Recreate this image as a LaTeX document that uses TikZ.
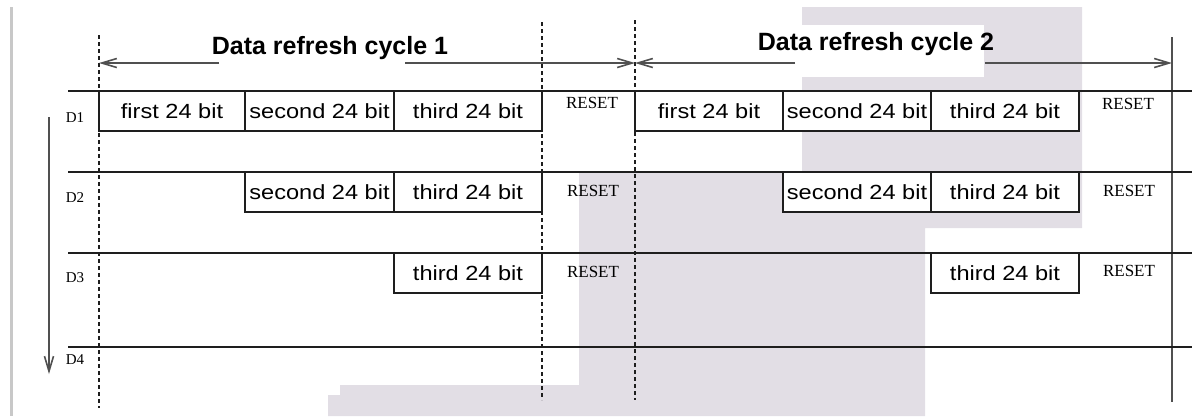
\documentclass[tikz,border=0pt]{standalone}
\usepackage{fontspec}
\setmainfont{Liberation Serif}
\newfontfamily\boxfont[FakeStretch=1.15]{Liberation Sans}
\newfontfamily\titlefont{Liberation Sans}
\usetikzlibrary{arrows.meta}
\definecolor{wmark}{RGB}{226,222,229}
\definecolor{barc}{RGB}{200,200,200}
\definecolor{linec}{RGB}{30,30,30}
\definecolor{arrc}{RGB}{80,80,80}
\tikzset{
  cell/.style={draw=linec, fill=white, line width=1.3pt, minimum height=40pt,
    inner sep=0pt, outer sep=0pt, anchor=north west,
    font=\boxfont\fontsize{20.5}{24}\selectfont},
  rowline/.style={draw=linec, line width=1.3pt},
  guide/.style={draw=linec, line width=1.3pt, dash pattern=on 4pt off 3pt},
  dimarrow/.style={draw=arrc, line width=1.6pt, -{Straight Barb[length=15pt,width=9pt,line width=1.6pt]}},
  resetlbl/.style={font=\fontsize{17}{20}\selectfont, inner sep=0pt},
  rowlbl/.style={font=\fontsize{15}{18}\selectfont, inner sep=0pt},
  title/.style={font=\titlefont\bfseries\fontsize{25}{30}\selectfont, inner sep=0pt, anchor=base}
}
\begin{document}
\begin{tikzpicture}[x=1pt,y=-1pt]
\useasboundingbox (0,0) rectangle (1192,416);
% background watermark
\fill[wmark] (802,7) -- (1082,7) -- (1082,228) -- (925,228) -- (925,416) -- (328,416)
  -- (328,395) -- (340,395) -- (340,385) -- (579,385) -- (579,172) -- (802,172) -- cycle;
\fill[white] (795,25) rectangle (984,77);
\fill[barc] (10,7) rectangle (13,416);

% guide lines
\coordinate (g1t) at (99,35);  \coordinate (g1b) at (99,408);
\coordinate (g2t) at (542,22); \coordinate (g2b) at (542,400);
\coordinate (g3t) at (635,20); \coordinate (g3b) at (635,400);
\coordinate (g4t) at (1172,37); \coordinate (g4b) at (1172,402);
\draw[guide] (g1t) -- (g1b);
\draw[guide] (g2t) -- (g2b);
\draw[guide] (g3t) -- (g3b);
\draw[draw=arrc, line width=1.6pt] (g4t) -- (g4b);

% row lines
\foreach \n/\y in {1/91,2/172,3/253,4/347}{
  \coordinate (r\n l) at (68,\y);
  \coordinate (r\n r) at (1192,\y);
  \draw[rowline] (r\n l) -- (r\n r);
}

% dimension arrows
\coordinate (a1s) at (219,63); \coordinate (a1e) at (99,63);
\coordinate (a2s) at (405,63); \coordinate (a2e) at (635,63);
\coordinate (a3s) at (795,63); \coordinate (a3e) at (635,63);
\coordinate (a4s) at (985,63); \coordinate (a4e) at (1172,63);
\draw[dimarrow] (a1s) -- (a1e);
\draw[dimarrow] (a2s) -- (a2e);
\draw[dimarrow] (a3s) -- (a3e);
\draw[dimarrow] (a4s) -- (a4e);

\node[title] (t1) at (330,54) {Data refresh cycle 1};
\node[title] (t2) at (876,50) {Data refresh cycle 2};

% row 1
\node[cell, minimum width=146pt] (c11) at (99,91) {first 24 bit};
\node[cell, minimum width=149pt] (c12) at (245,91) {second 24 bit};
\node[cell, minimum width=148pt] (c13) at (394,91) {third 24 bit};
\node[cell, minimum width=148pt] (d11) at (635,91) {first 24 bit};
\node[cell, minimum width=148pt] (d12) at (783,91) {second 24 bit};
\node[cell, minimum width=148pt] (d13) at (931,91) {third 24 bit};
% row 2
\node[cell, minimum width=149pt] (c22) at (245,172) {second 24 bit};
\node[cell, minimum width=148pt] (c23) at (394,172) {third 24 bit};
\node[cell, minimum width=148pt] (d22) at (783,172) {second 24 bit};
\node[cell, minimum width=148pt] (d23) at (931,172) {third 24 bit};
% row 3
\node[cell, minimum width=148pt] (c33) at (394,253) {third 24 bit};
\node[cell, minimum width=148pt] (d33) at (931,253) {third 24 bit};

% RESET labels
\node[resetlbl] (rs11) at (592,103) {RESET};
\node[resetlbl] (rs21) at (593,191) {RESET};
\node[resetlbl] (rs31) at (593,272) {RESET};
\node[resetlbl] (rs12) at (1128,104) {RESET};
\node[resetlbl] (rs22) at (1129,191) {RESET};
\node[resetlbl] (rs32) at (1129,271) {RESET};

% row labels
\node[rowlbl] (D1) at (75,118) {D1};
\node[rowlbl] (D2) at (75,198) {D2};
\node[rowlbl] (D3) at (75,278) {D3};
\node[rowlbl] (D4) at (75,360) {D4};

% down arrow
\coordinate (dt) at (49,117); \coordinate (db) at (49,374);
\draw[dimarrow] (dt) -- (db);
\end{tikzpicture}
\end{document}
